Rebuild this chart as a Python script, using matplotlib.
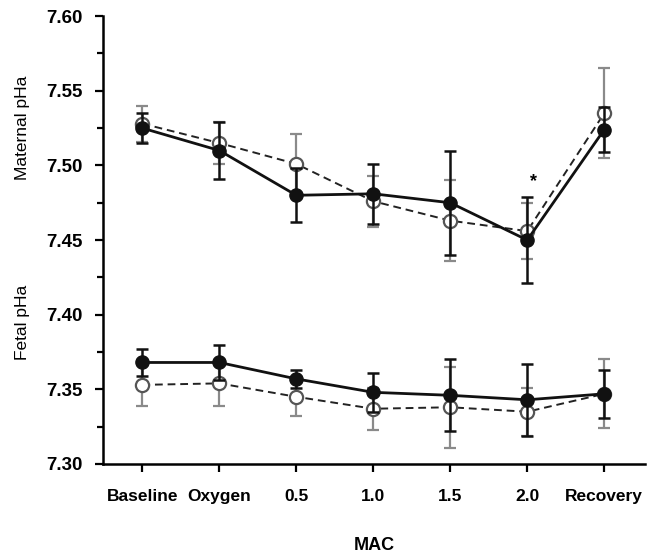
import matplotlib
matplotlib.use('Agg')
import matplotlib.pyplot as plt
from matplotlib.ticker import MultipleLocator

plt.rcParams['font.family'] = ['Liberation Sans', 'DejaVu Sans']

# --- data ---
stages = ['Baseline', 'Oxygen', '0.5', '1.0', '1.5', '2.0', 'Recovery']

mat_filled     = [7.525, 7.510, 7.480, 7.481, 7.475, 7.450, 7.524]
mat_filled_err = [0.010, 0.019, 0.018, 0.020, 0.035, 0.029, 0.015]
mat_open       = [7.528, 7.515, 7.501, 7.476, 7.463, 7.456, 7.535]
mat_open_err   = [0.012, 0.014, 0.020, 0.017, 0.027, 0.019, 0.030]

fet_filled     = [7.368, 7.368, 7.357, 7.348, 7.346, 7.343, 7.347]
fet_filled_err = [0.009, 0.012, 0.006, 0.013, 0.024, 0.024, 0.016]
fet_open       = [7.353, 7.354, 7.345, 7.337, 7.338, 7.335, 7.347]
fet_open_err   = [0.014, 0.015, 0.013, 0.014, 0.027, 0.016, 0.023]

x = list(range(len(stages)))

fig = plt.figure(figsize=(6.65, 5.57), dpi=100)
ax = fig.add_axes([0.155, 0.167, 0.815, 0.804])

gray = '#8a8a8a'
for means, errs in [(mat_open, mat_open_err), (fet_open, fet_open_err)]:
    ax.errorbar(x, means, yerr=errs, fmt='none', ecolor=gray, elinewidth=1.6,
                capsize=4.5, capthick=1.6, zorder=2)
    ax.plot(x, means, color='#222222', lw=1.4, ls=(0, (4, 2.5)), marker='o',
            ms=9.5, mfc='white', mec='#555555', mew=1.6, zorder=3)

for means, errs in [(mat_filled, mat_filled_err), (fet_filled, fet_filled_err)]:
    ax.errorbar(x, means, yerr=errs, fmt='none', ecolor='#111111', elinewidth=1.8,
                capsize=4.5, capthick=1.8, zorder=4)
    ax.plot(x, means, color='#111111', lw=2.0, marker='o', ms=9.5,
            mfc='#111111', mec='#111111', zorder=5)

# significance marker
ax.text(5.08, 7.489, '*', ha='center', va='center', fontsize=13, fontweight='bold')

ax.set_xlim(-0.51, 6.53)
ax.set_ylim(7.30, 7.60)
ax.set_xticks(x)
ax.set_xticklabels(stages)
ax.yaxis.set_major_locator(MultipleLocator(0.05))
ax.yaxis.set_minor_locator(MultipleLocator(0.025))
ax.yaxis.set_major_formatter(matplotlib.ticker.FormatStrFormatter('%.2f'))

for s in ['top', 'right']:
    ax.spines[s].set_visible(False)
for s in ['left', 'bottom']:
    ax.spines[s].set_linewidth(1.8)

ax.tick_params(axis='both', which='major', direction='out', length=6, width=1.6)
ax.tick_params(axis='y', which='major', pad=9, labelsize=13.5)
ax.tick_params(axis='x', which='major', pad=12, labelsize=12.5)
ax.tick_params(axis='y', which='minor', direction='out', length=4, width=1.6)
for lab in ax.get_xticklabels() + ax.get_yticklabels():
    lab.set_fontweight('bold')

fig.text(374 / 665, 1 - 546 / 557, 'MAC', ha='center', va='center',
         fontsize=13, fontweight='bold')
fig.text(23 / 665, 1 - 128 / 557, 'Maternal pHa', rotation=90, ha='center',
         va='center', fontsize=12.5)
fig.text(23 / 665, 1 - 322 / 557, 'Fetal pHa', rotation=90, ha='center',
         va='center', fontsize=12.5)

fig.savefig('out.png', dpi=100)
